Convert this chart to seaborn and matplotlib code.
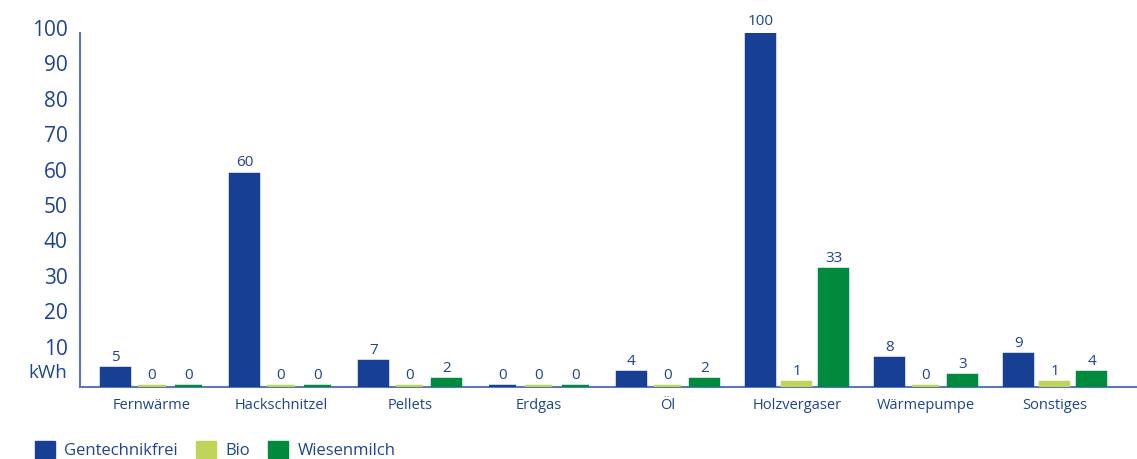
import matplotlib
matplotlib.use("Agg")
import matplotlib.pyplot as plt
import matplotlib.transforms as mtransforms
import seaborn as sns
import pandas as pd
from matplotlib.patches import Patch

categories = ["Fernwärme", "Hackschnitzel", "Pellets", "Erdgas", "Öl",
              "Holzvergaser", "Wärmepumpe", "Sonstiges"]
series_names = ["Gentechnikfrei", "Bio", "Wiesenmilch"]
gentechnikfrei = [5, 60, 7, 0, 4, 100, 8, 9]
bio = [0, 0, 0, 0, 0, 1, 0, 1]
wiesenmilch = [0, 0, 2, 0, 2, 33, 3, 4]
y_ticks = [10, 20, 30, 40, 50, 60, 70, 80, 90, 100]
unit = "kWh"

colors = ["#173f94", "#c1d45a", "#008a3e"]
text_blue = "#1f4393"
axis_blue = "#5b79b4"

df = pd.DataFrame({
    "Kategorie": categories * 3,
    "Serie": [s for s in series_names for _ in categories],
    "Wert": gentechnikfrei + bio + wiesenmilch,
})

sns.set_style("white")
plt.rcParams["font.family"] = ["Open Sans", "DejaVu Sans"]

fig = plt.figure(figsize=(11.37, 4.59), dpi=100)
ax = fig.add_axes([80 / 1137, 1 - 387 / 459, 1 - 80 / 1137, (387 - 33) / 459])

sns.barplot(data=df, x="Kategorie", y="Wert", hue="Serie", order=categories,
            hue_order=series_names, palette=colors, width=0.85, gap=0.26,
            saturation=1, legend=False, ax=ax, errorbar=None)

# outline in bar colour so that zero values remain visible as a thin strip
for cont, col in zip(ax.containers, colors):
    for bar in cont:
        bar.set_edgecolor(col)
        bar.set_linewidth(3.2)
        bar.set_zorder(3)
    ax.bar_label(cont, fmt="%g", padding=3, color=text_blue, fontsize=11)

ax.set_xlim(-0.558, 7.636)
ax.set_ylim(0, 100)
ax.set_yticks(y_ticks)
ax.set_yticklabels([str(t) for t in y_ticks])
ax.set_xlabel("")
ax.set_ylabel("")

for side in ("top", "right"):
    ax.spines[side].set_visible(False)
for side in ("left", "bottom"):
    ax.spines[side].set_color(axis_blue)
    ax.spines[side].set_linewidth(1.5)
    ax.spines[side].set_zorder(2)

ax.tick_params(axis="y", direction="in", length=16.5, width=1.2, color=text_blue,
               labelsize=15, labelcolor=text_blue, pad=9)
ax.tick_params(axis="x", length=0, labelsize=10.5, labelcolor=text_blue, pad=8)

# lift the value labels slightly above their tick marks
lift = mtransforms.ScaledTranslation(0, 5 / 100, fig.dpi_scale_trans)
for lbl in ax.get_yticklabels():
    lbl.set_transform(lbl.get_transform() + lift)

ax.annotate(unit, xy=(0, 4), xycoords=("axes fraction", "data"),
            xytext=(-13, 0), textcoords="offset pixels",
            ha="right", va="center", fontsize=13.5, color=text_blue)

handles = [Patch(facecolor=c, edgecolor=c) for c in colors]
fig.legend(handles, series_names, loc="lower left", bbox_to_anchor=(35 / 1137, 0.0),
           ncol=3, frameon=False, fontsize=12, labelcolor=text_blue,
           handlelength=1.2, handleheight=1.2, handletextpad=0.55,
           columnspacing=1.1, borderpad=0.0, borderaxespad=0.0)

fig.savefig("out.png", dpi=100)
